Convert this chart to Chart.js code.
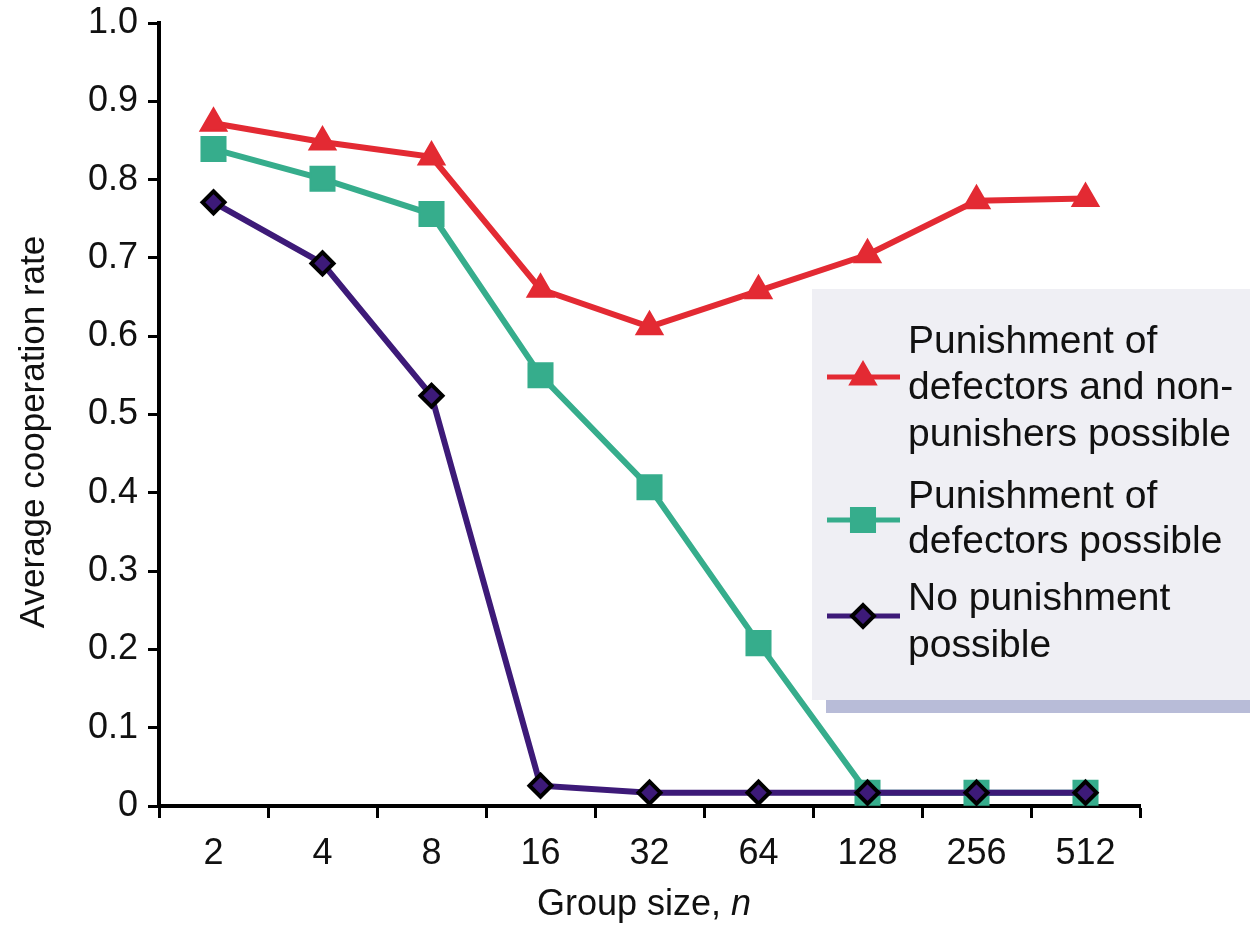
<!DOCTYPE html>
<html>
<head>
<meta charset="utf-8">
<script src="https://cdn.jsdelivr.net/npm/chart.js@4.4.0/dist/chart.umd.min.js"></script>
<style>
  html, body { margin: 0; padding: 0; background: #fff; }
  #wrap { position: relative; width: 1250px; height: 942px; }
</style>
</head>
<body>
<div id="wrap"><canvas id="coop" width="1250" height="942"></canvas></div>
<script>
'use strict';

// group sizes on the x axis
const groupSizes = ['2', '4', '8', '16', '32', '64', '128', '256', '512'];
// average cooperation rate
const punishBoth = [0.872, 0.848, 0.829, 0.660, 0.612, 0.658, 0.704, 0.773, 0.776];
const punishDefectors = [0.839, 0.801, 0.756, 0.550, 0.407, 0.208, 0.017, 0.017, 0.017];
const noPunish = [0.771, 0.693, 0.524, 0.026, 0.017, 0.017, 0.017, 0.017, 0.017];
const yTicks = [0, 0.1, 0.2, 0.3, 0.4, 0.5, 0.6, 0.7, 0.8, 0.9, 1.0];

const legendLines = [
  ['Punishment of', 'defectors and non-', 'punishers possible'],
  ['Punishment of', 'defectors possible'],
  ['No punishment', 'possible']
];

const RED = '#e32a33';
const GREEN = '#36ad8c';
const PURPLE = '#3d1a78';
const INK = '#111111';
const FONT = '"Liberation Sans", Arial, Helvetica, sans-serif';
const FSIZE = 36;

// small marker drawer for the legend (same shapes chart.js uses)
function marker(ctx, style, r, x, y) {
  ctx.beginPath();
  if (style === 'triangle') {
    ctx.moveTo(x, y - r);
    ctx.lineTo(x + r * Math.sin(2 * Math.PI / 3), y + r / 2);
    ctx.lineTo(x - r * Math.sin(2 * Math.PI / 3), y + r / 2);
  } else if (style === 'rect') {
    const s = Math.SQRT1_2 * r;
    ctx.rect(x - s, y - s, 2 * s, 2 * s);
  } else {
    ctx.moveTo(x - r, y);
    ctx.lineTo(x, y - r);
    ctx.lineTo(x + r, y);
    ctx.lineTo(x, y + r);
  }
  ctx.closePath();
  ctx.fill();
  ctx.stroke();
}

// axis titles and the boxed legend
const figureText = {
  id: 'figureText',
  afterDraw(chart) {
    const ctx = chart.ctx;
    ctx.save();
    ctx.fillStyle = INK;
    ctx.textBaseline = 'alphabetic';

    // x title with italic n
    ctx.font = FSIZE + 'px ' + FONT;
    const a = 'Group size, ';
    const wa = ctx.measureText(a).width;
    ctx.font = 'italic ' + FSIZE + 'px ' + FONT;
    const wb = ctx.measureText('n').width;
    let x0 = 644 - (wa + wb) / 2;
    ctx.font = FSIZE + 'px ' + FONT;
    ctx.textAlign = 'left';
    ctx.fillText(a, x0, 915);
    ctx.font = 'italic ' + FSIZE + 'px ' + FONT;
    ctx.fillText('n', x0 + wa, 915);

    // y title
    ctx.font = '35px ' + FONT;
    ctx.save();
    ctx.translate(44, 432);
    ctx.rotate(-Math.PI / 2);
    ctx.textAlign = 'center';
    ctx.fillText('Average cooperation rate', 0, 0);
    ctx.restore();

    // legend box
    ctx.fillStyle = '#efeff4';
    ctx.fillRect(812, 289, 438, 411);
    ctx.fillStyle = '#b8bcd8';
    ctx.fillRect(826, 700, 424, 13);

    const markY = [377, 520, 616];
    const baseY = [[353, 399, 446], [508, 553], [610, 657]];
    chart.data.datasets.forEach((ds, i) => {
      ctx.strokeStyle = ds.borderColor;
      ctx.lineWidth = 5;
      ctx.beginPath();
      ctx.moveTo(827, markY[i]);
      ctx.lineTo(900, markY[i]);
      ctx.stroke();
      ctx.fillStyle = ds.pointBackgroundColor;
      ctx.strokeStyle = ds.pointBorderColor;
      ctx.lineWidth = ds.pointBorderWidth;
      marker(ctx, ds.pointStyle, ds.pointRadius, 863, markY[i]);
      ctx.fillStyle = INK;
      ctx.font = '39px ' + FONT;
      ctx.textAlign = 'left';
      legendLines[i].forEach((t, j) => ctx.fillText(t, 908, baseY[i][j]));
    });
    ctx.restore();
  }
};

const lineSet = (label, data, color, style, radius, border, borderCol, order) => ({
  label: label,
  data: data,
  borderColor: color,
  borderWidth: 6,
  pointStyle: style,
  pointRadius: radius,
  pointHoverRadius: radius,
  pointBackgroundColor: color,
  pointBorderColor: borderCol,
  pointBorderWidth: border,
  tension: 0,
  clip: false,
  order: order
});

const coopChart = new Chart(document.getElementById('coop'), {
  type: 'line',
  data: {
    labels: groupSizes,
    datasets: [
      lineSet('Punishment of defectors and non-punishers possible', punishBoth, RED, 'triangle', 15, 2, RED, 3),
      lineSet('Punishment of defectors possible', punishDefectors, GREEN, 'rect', 17, 2, GREEN, 2),
      lineSet('No punishment possible', noPunish, PURPLE, 'rectRot', 11, 4, '#000000', 1)
    ]
  },
  options: {
    responsive: false,
    animation: false,
    layout: { padding: { top: 23, right: 110, left: 0, bottom: 0 } },
    plugins: { legend: { display: false }, tooltip: { enabled: false } },
    scales: {
      x: {
        offset: true,
        afterFit: (s) => { s.height = 136; s.paddingLeft = 0; s.paddingRight = 0; },
        grid: {
          offset: true,
          drawOnChartArea: false,
          tickLength: 12,
          tickWidth: 3,
          tickColor: '#000'
        },
        border: { display: true, color: '#000', width: 4 },
        ticks: {
          color: INK,
          padding: 14,
          font: { family: FONT, size: FSIZE }
        }
      },
      y: {
        min: 0,
        max: 1,
        afterFit: (s) => { s.width = 159; s.paddingTop = 0; s.paddingBottom = 0; },
        afterBuildTicks: (s) => { s.ticks = yTicks.map(v => ({ value: v })); },
        grid: {
          drawOnChartArea: false,
          tickLength: 11,
          tickWidth: 3,
          tickColor: '#000'
        },
        border: { display: true, color: '#000', width: 4 },
        ticks: {
          color: INK,
          padding: 10,
          font: { family: FONT, size: FSIZE },
          callback: (v) => (v === 0 ? '0' : v.toFixed(1))
        }
      }
    }
  },
  plugins: [figureText]
});
</script>
</body>
</html>
